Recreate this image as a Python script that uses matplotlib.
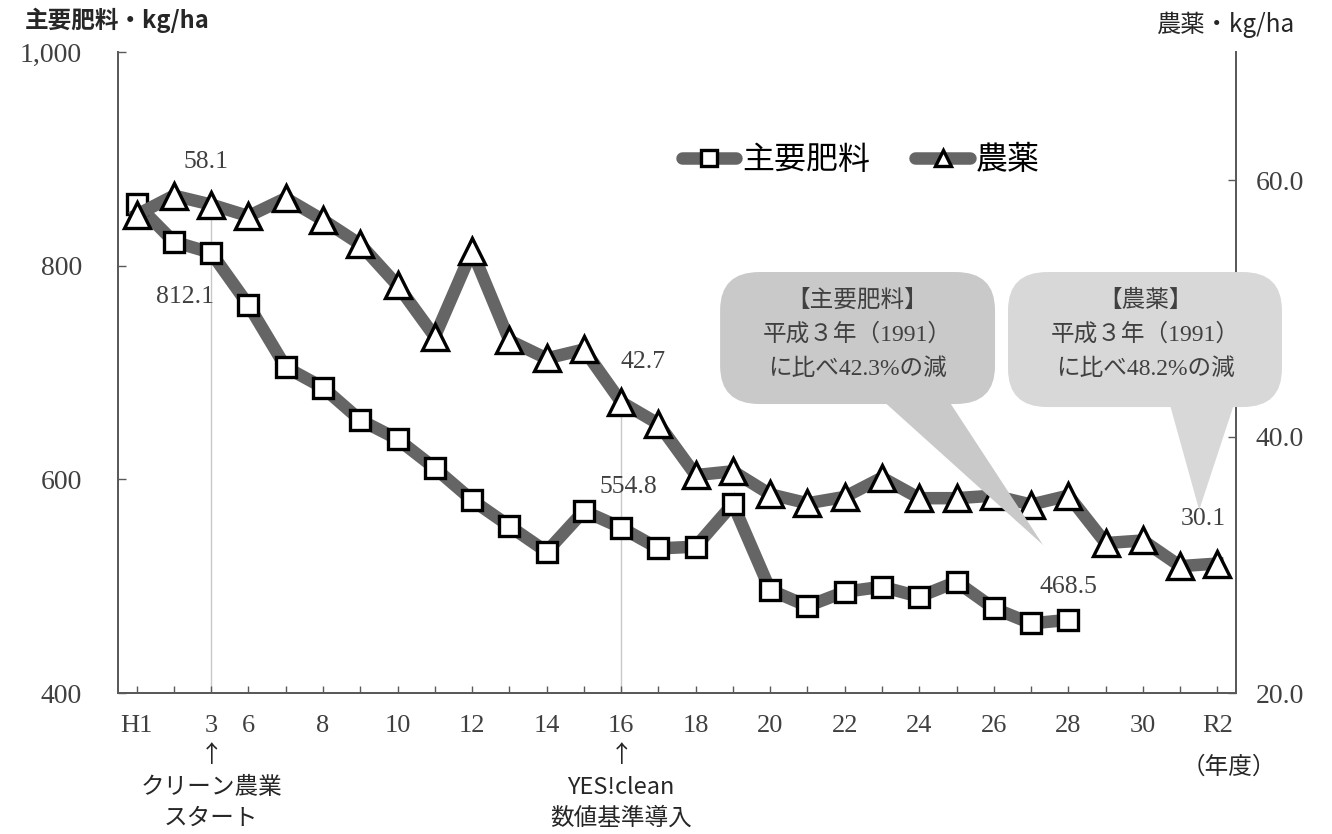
import matplotlib
matplotlib.use("Agg")
import matplotlib.pyplot as plt
from matplotlib.lines import Line2D
from matplotlib.patches import FancyBboxPatch, Polygon

plt.rcParams['font.family'] = ['Liberation Serif', 'Noto Sans CJK JP']
JP = ['Noto Sans CJK JP', 'DejaVu Sans']

# 年度 (H4, H5 は欠測)
years = ['H1', '2', '3', '6', '7', '8', '9', '10', '11', '12', '13', '14', '15',
         '16', '17', '18', '19', '20', '21', '22', '23', '24', '25', '26', '27',
         '28', '29', '30', 'R1', 'R2']
shown = ['H1', '3', '6', '8', '10', '12', '14', '16', '18', '20', '22', '24',
         '26', '28', '30', 'R2']

# 主要肥料 kg/ha (H28 まで)
fert = [857.7, 822.4, 812.1, 763.2, 705.0, 686.0, 655.5, 637.7, 610.6, 580.6,
        556.3, 532.3, 570.4, 554.8, 535.4, 537.0, 577.0, 496.4, 481.4, 494.8,
        499.5, 490.2, 504.2, 479.3, 465.2, 468.5]
# 農薬 kg/ha
pest = [57.3, 58.8, 58.1, 57.2, 58.6, 56.9, 55.0, 51.8, 47.8, 54.5, 47.5, 46.1,
        46.8, 42.7, 41.0, 37.0, 37.3, 35.5, 34.8, 35.3, 36.8, 35.2, 35.2, 35.4,
        34.7, 35.4, 31.7, 31.9, 29.9, 30.1]

x = list(range(len(years)))
xf = x[:len(fert)]

line_c = '#656565'
fig = plt.figure(figsize=(13.32, 8.34), dpi=100)
ax = fig.add_axes([0.0886, 0.169, 0.8394, 0.7686])
ax2 = ax.twinx()

ax.set_xlim(-0.5, len(years) - 0.5)
ax.set_ylim(400, 1000)
ax2.set_ylim(20, 70)

# 基準年の縦線
for i in (2, 13):
    ax.axvline(i, 0, (pest[i] - 20) / 50, color='#c8c8c8', lw=1, zorder=1)

ax.plot(xf, fert, color=line_c, lw=9, solid_joinstyle='miter', marker='s',
        ms=15, mfc='white', mec='black', mew=2.4, zorder=3)
ax2.plot(x, pest, color=line_c, lw=9, solid_joinstyle='miter', marker='^',
         ms=19, mfc='white', mec='black', mew=2.4, zorder=3)

# 軸
ax.set_xticks(x)
ax.set_xticklabels([y if y in shown else '' for y in years])
ax.set_yticks([400, 600, 800, 1000])
ax.set_yticklabels(['400', '600', '800', '1,000'])
ax2.set_yticks([20, 40, 60])
ax2.set_yticklabels(['20.0', '40.0', '60.0'])
ax.tick_params(axis='x', direction='in', length=5, width=1, pad=16,
               labelsize=19, colors='#595959', labelcolor='#404040')
ax.tick_params(axis='y', direction='in', length=6, width=1, pad=26,
               labelsize=20, colors='#595959', labelcolor='#404040')
ax2.tick_params(axis='y', direction='in', length=6, width=1, pad=14,
                labelsize=20, colors='#595959', labelcolor='#404040')
for a in (ax, ax2):
    a.spines['top'].set_visible(False)
    for s in ('left', 'right', 'bottom'):
        a.spines[s].set_color('#595959')
        a.spines[s].set_linewidth(1.3)

# データラベル
lab = dict(fontsize=18.5, color='#404040', ha='center', va='center',
           textcoords='offset points')
ax2.annotate('58.1', (2, pest[2]), xytext=(-4, 31), **lab)
ax.annotate('812.1', (2, fert[2]), xytext=(-19, -32), **lab)
ax2.annotate('42.7', (13, pest[13]), xytext=(16, 29), **lab)
ax.annotate('554.8', (13, fert[13]), xytext=(5, 29), **lab)
ax.annotate('468.5', (25, fert[25]), xytext=(0, 24), **lab)
ax2.annotate('30.1', (29, pest[29]), xytext=(-10, 32), **lab)

# 吹き出し
def balloon(x0, x1, y0, y1, tail, color, lines, cx):
    box = FancyBboxPatch((x0, y0), x1 - x0, y1 - y0,
                         boxstyle='round,pad=0,rounding_size=0.035',
                         transform=ax2.transAxes, fc=color, ec='none',
                         zorder=6, clip_on=False, mutation_aspect=1.7)
    ax2.add_patch(box)
    ax2.add_patch(Polygon(tail, closed=True, transform=ax2.transAxes,
                          fc=color, ec='none', zorder=6, clip_on=False))
    for k, t in enumerate(lines):
        ax2.text(cx, y1 - 0.045 - k * 0.053, t, transform=ax2.transAxes,
                 ha='center', va='center', fontsize=17, color='#404040',
                 zorder=7)

balloon(0.5385, 0.7844, 0.4509, 0.6568,
        [(0.6816, 0.46), (0.7415, 0.46), (0.8274, 0.2309)], '#c9c9c9',
        ['【主要肥料】', '平成３年（1991）', 'に比べ42.3%の減'], 0.6614)
balloon(0.7960, 1.0410, 0.4462, 0.6568,
        [(0.9400, 0.455), (0.9990, 0.455), (0.9670, 0.2855)], '#d8d8d8',
        ['【農薬】', '平成３年（1991）', 'に比べ48.2%の減'], 0.9186)

# 凡例
handles = [Line2D([], [], color=line_c, lw=9, solid_capstyle='round',
                  marker='s', ms=12, mfc='white', mec='black', mew=2.4),
           Line2D([], [], color=line_c, lw=9, solid_capstyle='round',
                  marker='^', ms=12, mfc='white', mec='black', mew=2.4)]
fig.legend(handles, ['主要肥料', '農薬'], loc='center left',
           bbox_to_anchor=(0.512, 0.808), ncol=2, frameon=False,
           handlelength=1.7, handletextpad=0.2, columnspacing=1.4,
           borderpad=0, borderaxespad=0, prop={'family': JP, 'size': 23})

# 軸タイトル
fig.text(25 / 1332, 1 - 20 / 834, '主要肥料・kg/ha', ha='left', va='center',
         fontsize=17, fontweight='bold', family=JP, color='#262626')
fig.text(1295 / 1332, 1 - 25 / 834, '農薬・kg/ha', ha='right', va='center',
         fontsize=17.5, family=JP, color='#262626')

# 事業の開始時期
note = dict(xycoords=('data', 'axes fraction'), ha='center', va='center',
            fontsize=17, family=JP, color='#262626', annotation_clip=False)
ax.annotate('↑', (2, -0.098), **note)
ax.annotate('クリーン農業', (2, -0.147), **note)
ax.annotate('スタート', (2, -0.195), **note)
ax.annotate('↑', (13, -0.098), **note)
ax.annotate('YES!clean', (13, -0.147), **note)
ax.annotate('数値基準導入', (13, -0.195), **note)
ax.annotate('（年度）', (29.3, -0.115), **note)

fig.savefig('out.png', dpi=100)
